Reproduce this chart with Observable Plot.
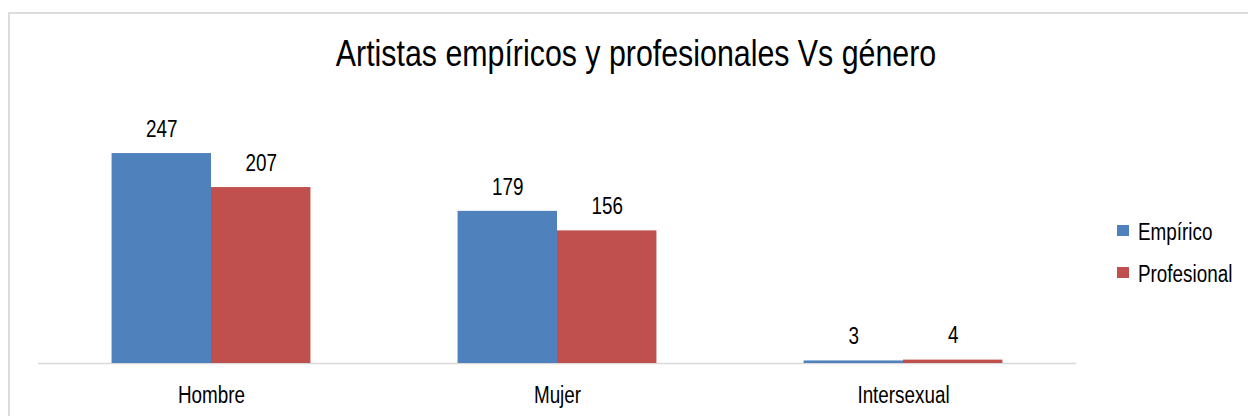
<!DOCTYPE html>
<html>
<head>
<meta charset="utf-8">
<script src="https://cdn.jsdelivr.net/npm/d3@7"></script>
<script src="https://cdn.jsdelivr.net/npm/@observablehq/plot@0.6"></script>
<style>
  html, body { margin: 0; padding: 0; background: #fff; }
  #wrap { position: relative; width: 1248px; height: 416px; overflow: hidden;
          font-family: "Liberation Sans", Arial, sans-serif; }
  #frame { position: absolute; left: 8px; top: 12px; width: 1260px; height: 420px;
           border-left: 2px solid #dcdcdc; border-top: 2px solid #dcdcdc; box-sizing: border-box; }
  #title { position: absolute; top: 35px; left: 636px; transform: translateX(-50%) scaleX(0.82);
           font-size: 37px; line-height: 1; white-space: nowrap; color: #000; }
  #plot { position: absolute; left: 0; top: 0; }
  .leg { position: absolute; left: 1117px; font-size: 23px; line-height: 1; white-space: nowrap; color: #000; }
  .leg .sw { position: absolute; left: 0; width: 12px; height: 11px; }
  .leg .lb { position: absolute; left: 21px; transform: scaleX(0.82); transform-origin: 0 0; }
</style>
</head>
<body>
<div id="wrap">
  <div id="frame"></div>
  <div id="plot"></div>
  <div id="title">Artistas empíricos y profesionales Vs género</div>
  <div id="legend"></div>
</div>
<script>
const categories = ["Hombre", "Mujer", "Intersexual"];
const series = ["Empírico", "Profesional"];
const empirico = [247, 179, 3];
const profesional = [207, 156, 4];
const colors = ["#4F81BD", "#C0504D"];

const data = [];
categories.forEach((c, i) => {
  data.push({category: c, series: series[0], value: empirico[i]});
  data.push({category: c, series: series[1], value: profesional[i]});
});

const chart = Plot.plot({
  width: 1248,
  height: 416,
  marginLeft: 37,
  marginRight: 171,
  marginTop: 108,
  marginBottom: 53,
  style: {
    background: "transparent",
    fontFamily: '"Liberation Sans", Arial, sans-serif',
    fontSize: "23px",
    color: "#000"
  },
  fx: {domain: categories, padding: 0, label: null, tickSize: 0, tickPadding: 23, axis: "bottom"},
  x: {domain: series, paddingInner: 0, paddingOuter: 0.74, axis: null, round: false},
  y: {domain: [0, 300], axis: null},
  color: {domain: series, range: colors},
  marks: [
    Plot.ruleY([0], {stroke: "#d9d9d9", strokeWidth: 1.5}),
    Plot.barY(data, {fx: "category", x: "series", y: "value", fill: "series"}),
    Plot.text(data, {fx: "category", x: "series", y: "value", text: d => String(d.value),
                     dy: -24, fontSize: 23, fill: "#000"})
  ]
});
// condense all SVG text horizontally (narrow typeface look)
chart.querySelectorAll("text").forEach(t => {
  const tr = t.getAttribute("transform");
  if (tr) {
    t.setAttribute("transform", tr + " scale(0.82,1)");
  } else {
    const x = +(t.getAttribute("x") || 0);
    t.setAttribute("transform", `translate(${x},0) scale(0.82,1) translate(${-x},0)`);
  }
});
document.getElementById("plot").appendChild(chart);

// legend
const legend = document.getElementById("legend");
const legTops = [221, 263];
series.forEach((s, i) => {
  const item = document.createElement("div");
  item.className = "leg";
  item.style.top = legTops[i] + "px";
  const sw = document.createElement("div");
  sw.className = "sw";
  sw.style.background = colors[i];
  sw.style.top = "4px";
  const lb = document.createElement("div");
  lb.className = "lb";
  lb.textContent = s;
  item.appendChild(sw);
  item.appendChild(lb);
  legend.appendChild(item);
});
</script>
</body>
</html>
